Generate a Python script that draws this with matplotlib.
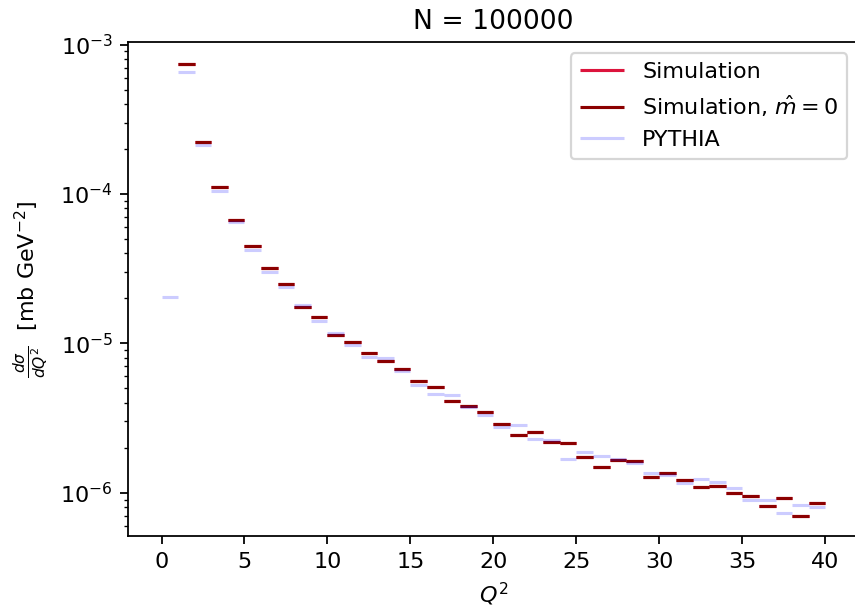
import numpy as np
from matplotlib import pyplot as plt

# bin edges in Q^2 (width 1)
edges = np.arange(0, 41)

# bin contents (bins 0..39), None = empty
sim_m0 = [None, 7.41e-4, 2.22e-4, 1.11e-4, 6.69e-5, 4.49e-5, 3.21e-5, 2.49e-5, 1.76e-5, 1.51e-5,
          1.135e-5, 1.014e-5, 8.64e-6, 7.6e-6, 6.76e-6, 5.62e-6, 5.1e-6, 4.08e-6, 3.80e-6, 3.48e-6,
          2.88e-6, 2.43e-6, 2.54e-6, 2.2e-6, 2.14e-6, 1.74e-6, 1.48e-6, 1.65e-6, 1.63e-6, 1.28e-6,
          1.36e-6, 1.22e-6, 1.095e-6, 1.115e-6, 1.0e-6, 9.44e-7, 8.14e-7, 9.15e-7, 7.0e-7, 8.55e-7]
sim = list(sim_m0)
pythia = [2.04e-5, 6.55e-4, 2.14e-4, 1.055e-4, 6.45e-5, 4.21e-5, 3.01e-5, 2.37e-5, 1.80e-5, 1.415e-5,
          1.175e-5, 9.68e-6, 8.12e-6, 7.95e-6, 6.55e-6, 5.29e-6, 4.58e-6, 4.54e-6, 3.73e-6, 3.33e-6,
          2.75e-6, 2.84e-6, 2.28e-6, 2.25e-6, 1.68e-6, 1.86e-6, 1.76e-6, 1.68e-6, 1.585e-6, 1.35e-6,
          1.31e-6, 1.165e-6, 1.24e-6, 1.18e-6, 1.075e-6, 8.94e-7, 8.87e-7, 7.26e-7, 8.21e-7, 8.04e-7]


def plot_bins(ax, vals, **kw):
    lo = [edges[i] for i in range(len(vals)) if vals[i] is not None]
    hi = [edges[i + 1] for i in range(len(vals)) if vals[i] is not None]
    y = [v for v in vals if v is not None]
    ax.hlines(y, lo, hi, **kw)


dpi = 160
fig = plt.figure(figsize=(855 / dpi, 610 / dpi), dpi=dpi)
ax = fig.add_axes([0.1501, 0.1208, 0.8540, 0.8102])

plot_bins(ax, sim, colors='crimson', linewidth=1.4, label='Simulation')
plot_bins(ax, sim_m0, colors='darkred', linewidth=1.4, label=r'Simulation, $\hat{m} = 0$')
plot_bins(ax, pythia, colors='blue', alpha=0.2, linewidth=1.4, label='PYTHIA')

ax.set_yscale('log')
ax.set_xlim(-2, 42)
ax.set_ylim(10**-6.292, 10**-2.983)
ax.set_xticks([0, 5, 10, 15, 20, 25, 30, 35, 40])

ax.set_title('N = 100000')
ax.set_xlabel('$Q^2$')
ax.set_ylabel(r'$\frac{d\sigma}{dQ^2}$  [mb GeV$^{-2}$]')
ax.legend(loc='upper right')

fig.savefig('out.png', dpi=dpi)
